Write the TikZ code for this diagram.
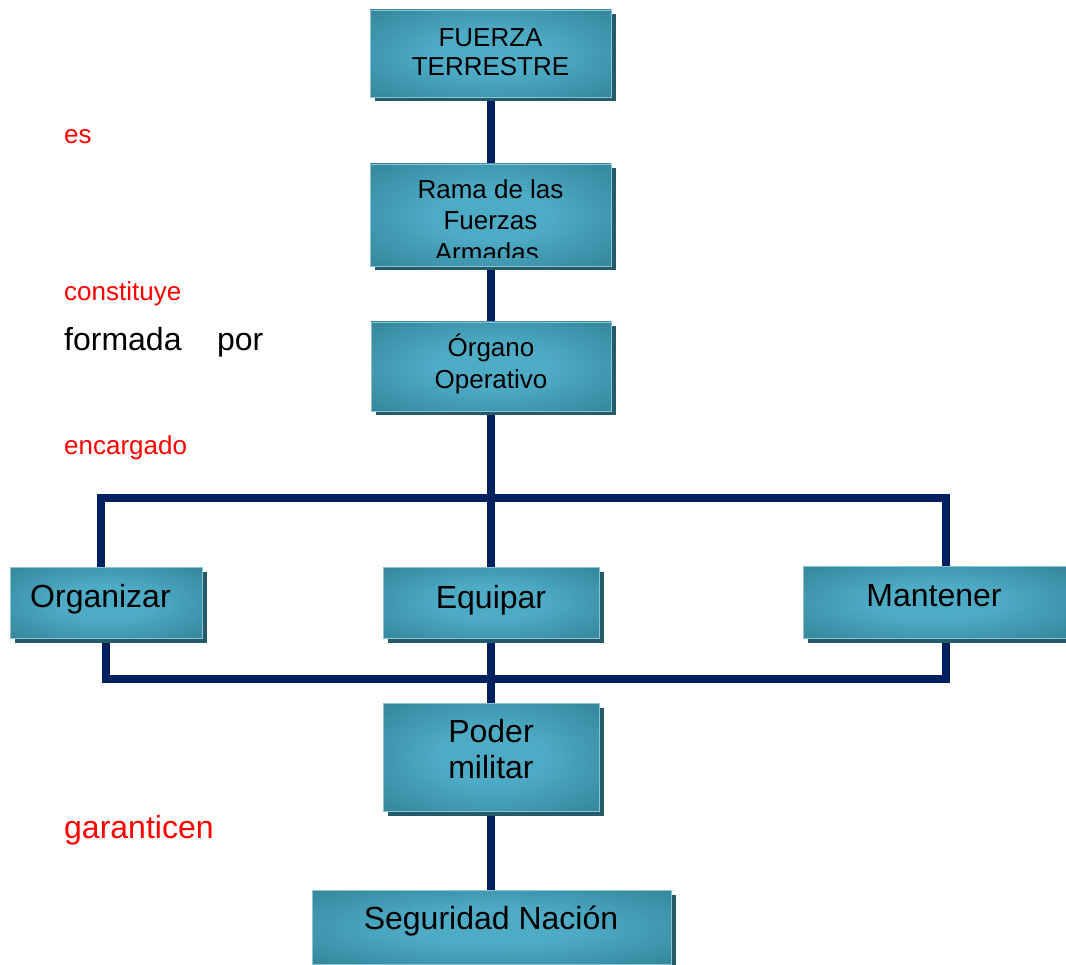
\documentclass[tikz,border=0pt]{standalone}
\usepackage{fontspec}
\setmainfont{Liberation Sans}
\usetikzlibrary{shadows,backgrounds}
\definecolor{linecol}{HTML}{002060}
\definecolor{boxdark}{HTML}{2F7F93}
\definecolor{boxlight}{HTML}{4EABC6}
\definecolor{shadowcol}{HTML}{245A69}
\definecolor{boxedge}{HTML}{8CC3D2}
\definecolor{labelred}{HTML}{FF0000}
\pgfdeclareradialshading{boxshade}{\pgfpoint{0bp}{0bp}}{color(0bp)=(boxlight); color(12bp)=(boxlight); color(40bp)=(boxdark); color(50bp)=(boxdark)}
\begin{document}
\begin{tikzpicture}[x=1pt,y=-1pt,
  boxshape/.style={rectangle, inner sep=0pt, draw=boxedge, line width=0.8pt, shading=boxshade,
    general shadow={shadow xshift=4.5pt, shadow yshift=-4.5pt, fill=shadowcol}},
  boxtxt/.style={inner sep=0pt, align=center, text=black, font=\fontsize{26}{29}\selectfont},
  bigtxt/.style={inner sep=0pt, align=center, text=black, font=\fontsize{32}{36}\selectfont},
  lbl/.style={anchor=base west, inner sep=0pt, text=labelred, font=\fontsize{26}{30}\selectfont},
  biglbl/.style={anchor=base west, inner sep=0pt, font=\fontsize{32}{36}\selectfont},
  conn/.style={draw=linecol, line width=8pt, line join=miter}]
\useasboundingbox (0,0) rectangle (1066,965);

% boxes
\node[boxshape, minimum width=241pt, minimum height=87pt] (fuerza) at (490.5,53.5) {};
\node[boxtxt] (fuerzatxt) at (490.5,52) {FUERZA\\TERRESTRE};

\node[boxshape, minimum width=241pt, minimum height=102pt] (rama) at (490.5,215) {};
\begin{scope}
  \clip (370,164) rectangle (611,258);
  \node[boxtxt, font=\fontsize{26}{31.5}\selectfont] (ramatxt) at (490.5,220.5) {Rama de las\\Fuerzas\\Armadas.};
\end{scope}

\node[boxshape, minimum width=240pt, minimum height=89pt] (organo) at (491,366.5) {};
\node[boxtxt, font=\fontsize{26}{32}\selectfont] (organotxt) at (491,364) {Órgano\\Operativo};

\node[boxshape, minimum width=192pt, minimum height=71pt] (organizar) at (106,602.5) {};
\node[bigtxt, anchor=base west] (organizartxt) at (30,607) {Organizar};

\node[boxshape, minimum width=216pt, minimum height=71pt] (equipar) at (491,602.5) {};
\node[bigtxt, anchor=base] (equipartxt) at (491,608) {Equipar};

\node[boxshape, minimum width=263pt, minimum height=72pt] (mantener) at (934.5,602) {};
\node[bigtxt, anchor=base] (mantenertxt) at (934,606) {Mantener};

\node[boxshape, minimum width=216pt, minimum height=108pt] (poder) at (491,757) {};
\node[bigtxt] (podertxt) at (491,749.5) {Poder\\militar};

\node[boxshape, minimum width=359pt, minimum height=74pt] (seguridad) at (491.5,927) {};
\node[bigtxt, anchor=base] (seguridadtxt) at (491,929) {Seguridad Nación};

% side labels
\node[lbl] (es) at (64,144) {es};
\node[lbl] (constituye) at (64,301) {constituye};
\node[biglbl] (formada) at (64,351) {formada\hspace{35.5pt}por};
\node[lbl] (encargado) at (64,455) {encargado};
\node[biglbl, text=labelred] (garanticen) at (64,838) {garanticen};

% connectors
\coordinate (tl) at (101,498);
\coordinate (tr) at (946,498);
\coordinate (bl) at (106,679);
\coordinate (br) at (946,679);
\begin{pgfonlayer}{background}
  \draw[conn] (fuerza.south) -- (fuerza.south |- rama.north);
  \draw[conn] (rama.south) -- (rama.south |- organo.north);
  \draw[conn] (organo.south) -- (organo.south |- equipar.north);
  \draw[conn] (equipar.south) -- (equipar.south |- poder.north);
  \draw[conn] (poder.south) -- (poder.south |- seguridad.north);
  \draw[conn] (organizar.north -| tl) -- (tl) -- (tr) -- (mantener.north -| tr);
  \draw[conn] (organizar.south -| bl) -- (bl) -- (br) -- (mantener.south -| br);
\end{pgfonlayer}
\end{tikzpicture}
\end{document}
